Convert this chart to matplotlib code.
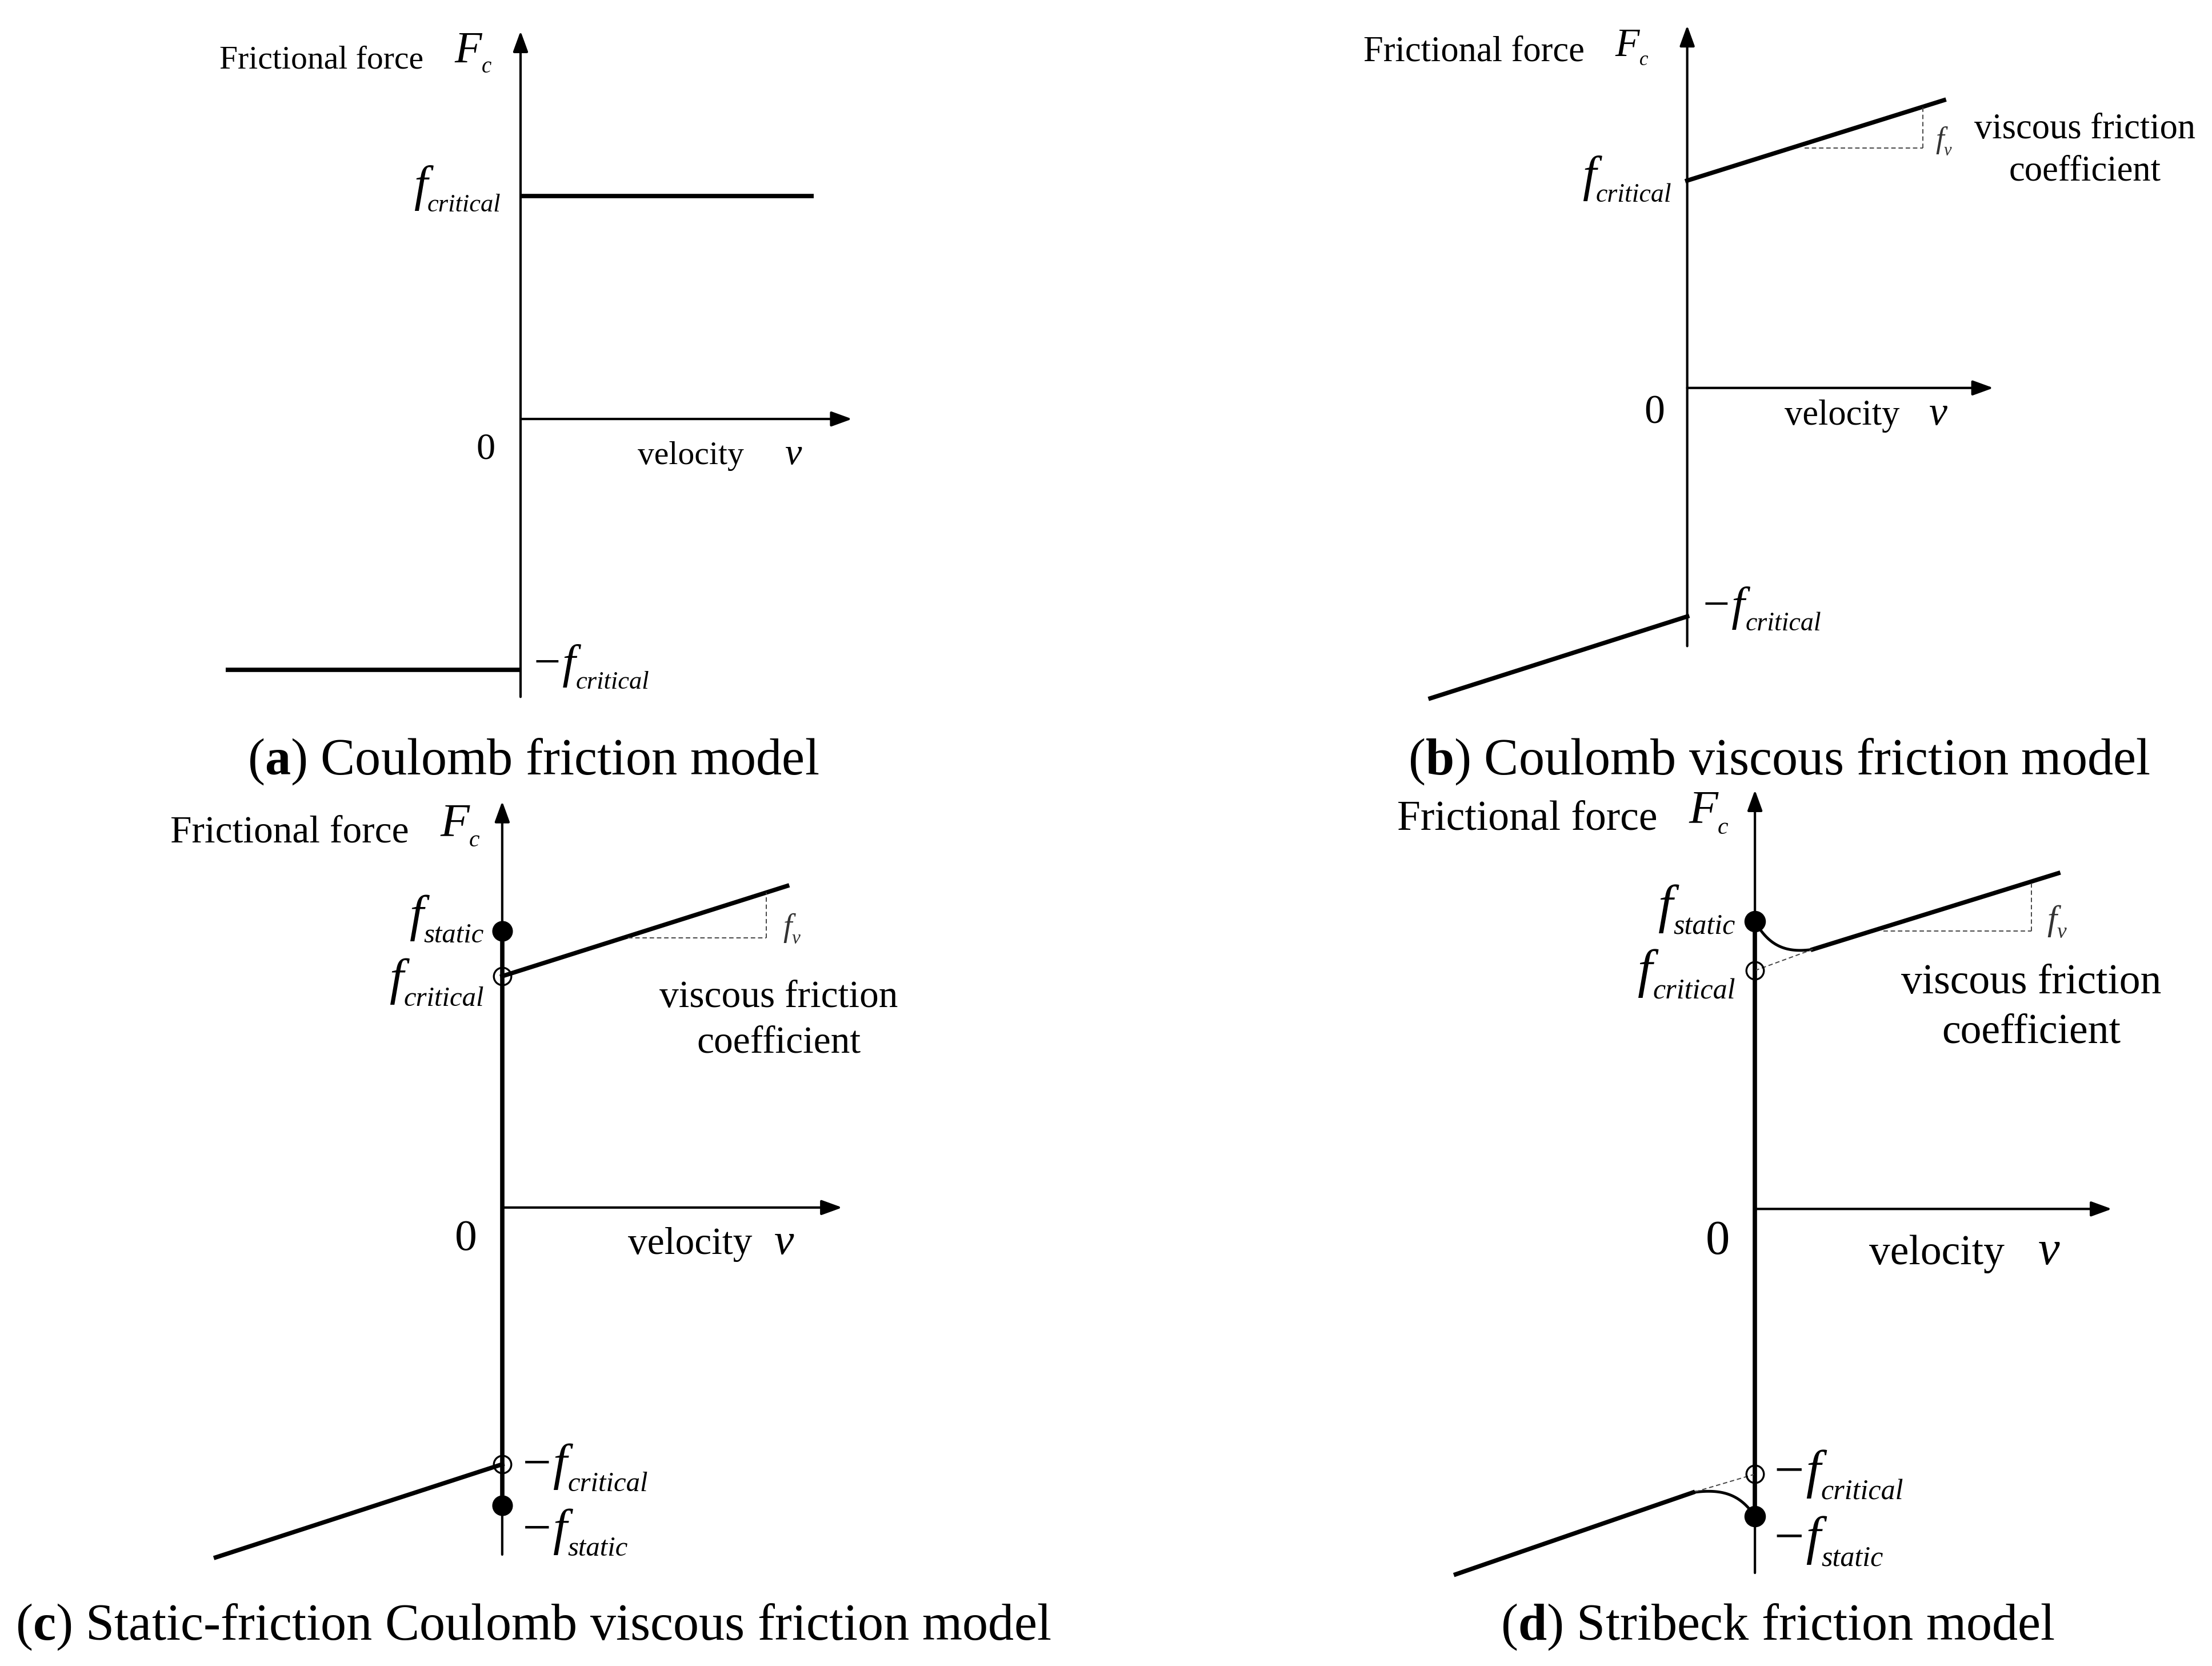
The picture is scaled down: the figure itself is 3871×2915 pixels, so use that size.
import numpy as np
import matplotlib
matplotlib.use("Agg")
import matplotlib.pyplot as plt

SERIF = "Liberation Serif"
plt.rcParams["font.family"] = SERIF
plt.rcParams["mathtext.fontset"] = "custom"
plt.rcParams["mathtext.rm"] = SERIF
plt.rcParams["mathtext.it"] = SERIF + ":italic"
plt.rcParams["mathtext.bf"] = SERIF + ":bold"

# layout grid (the four sketches are placed on a 1568 x 1181 grid, 100 grid px = 1 unit)
GW, GH = 1568, 1181

# ---- (a) Coulomb friction: force level for v>0 / v<0
a_F = [1.58, -1.78]
a_v_pos = [0.0, 2.08]
a_v_neg = [-2.09, 0.0]

# ---- (b) Coulomb + viscous
b_v_pos = [0.0, 1.82]
b_F_pos = [1.47, 2.04]
b_v_neg = [-1.82, 0.0]
b_F_neg = [-2.20, -1.62]
b_tri_v = [0.83, 1.67]
b_tri_F = [1.70, 1.97]

# ---- (c) static + Coulomb + viscous
c_fs, c_fc = 1.96, 1.64
c_fs_neg, c_fc_neg = -2.11, -1.82
c_v_pos = [0.0, 2.02]
c_F_pos = [1.64, 2.28]
c_v_neg = [-2.03, 0.0]
c_F_neg = [-2.48, -1.82]
c_tri_v = [0.89, 1.87]
c_tri_F = [1.91, 2.22]

# ---- (d) Stribeck
d_fs, d_fc = 2.04, 1.69
d_fs_neg, d_fc_neg = -2.18, -1.88
d_v_pos = [0.41, 2.15]
d_F_pos = [1.84, 2.38]
d_v_neg = [-2.12, -0.44]
d_F_neg = [-2.59, -2.01]
d_tri_v = [0.91, 1.96]
d_tri_F = [1.97, 2.29]
d_vs = 0.18  # Stribeck decay velocity

THIN, THICK, CURVE, DASH = 3.0, 5.5, 3.5, 1.4

fig = plt.figure(figsize=(38.71, 29.15), dpi=100)


def make_panel(ox, oy):
    ax = fig.add_axes([0, 0, 1, 1])
    ax.set_xlim(-ox / 100, (GW - ox) / 100)
    ax.set_ylim(-(GH - oy) / 100, oy / 100)
    ax.set_axis_off()
    ax.patch.set_alpha(0)
    return ax


def arrow(ax, start, end):
    ax.annotate("", xy=end, xytext=start,
                arrowprops=dict(arrowstyle="-|>,head_length=0.55,head_width=0.2",
                                lw=THIN, color="black", shrinkA=0, shrinkB=0,
                                mutation_scale=40))


def sub_label(ax, x, y, main, sub, size, sub_size, align="left", color="black"):
    # y is the baseline of the subscript
    lift = 0.23 * size
    kw = dict(style="italic", color=color, va="baseline", textcoords="offset points")
    if align == "right":
        s = ax.text(x, y, sub, fontsize=sub_size, style="italic", color=color,
                    ha="right", va="baseline")
        ax.annotate(main, xy=(0, y), xycoords=(s, "data"), xytext=(0, lift),
                    ha="right", fontsize=size, **kw)
    else:
        m = ax.annotate(main, xy=(x, y), xycoords="data", xytext=(0, lift),
                        ha="left", fontsize=size, **kw)
        ax.annotate(sub, xy=(1, y), xycoords=(m, "data"), xytext=(0, 0),
                    ha="left", fontsize=sub_size, **kw)


def common_text(ax, size, ff_x, ff_y, Fc_size, zero_x, zero_y, vel_x, vel_y, v_x):
    ax.text(ff_x, ff_y, "Frictional force", fontsize=size, ha="right", va="baseline")
    sub_label(ax, ff_x + 0.22, ff_y - 0.03, "F", "c", Fc_size, Fc_size * 0.5)
    ax.text(zero_x, zero_y, "0", fontsize=size * 1.15, ha="right", va="baseline")
    ax.text(vel_x, vel_y, "velocity", fontsize=size, ha="left", va="baseline")
    ax.text(v_x, vel_y, "v", fontsize=size * 1.15, style="italic", ha="left", va="baseline")


def slope_triangle(ax, tv, tF, slope_line_v, slope_line_F):
    k = (slope_line_F[1] - slope_line_F[0]) / (slope_line_v[1] - slope_line_v[0])
    top = slope_line_F[0] + k * (tv[1] - slope_line_v[0])
    ax.plot(tv, [tF[0], tF[0]], color="#444444", lw=DASH, ls=(0, (4, 2.5)))
    ax.plot([tv[1], tv[1]], [tF[0], top], color="#444444", lw=DASH, ls=(0, (4, 2.5)))


def stribeck(v, fc, fs, v_m, F_m, vs):
    e_m = np.exp(-abs(v_m) / vs)
    g = (np.exp(-np.abs(v) / vs) - e_m) / (1 - e_m)
    return fc + (F_m - fc) * v / v_m + (fs - fc) * g


# ---------------- (a)
ax = make_panel(369, 297)
arrow(ax, (0, -1.97), (0, 2.75))
arrow(ax, (0, 0), (2.35, 0))
ax.plot(a_v_pos, [a_F[0]] * 2, color="black", lw=THICK, solid_capstyle="butt")
ax.plot(a_v_neg, [a_F[1]] * 2, color="black", lw=THICK, solid_capstyle="butt")
common_text(ax, 41.5, -0.69, 2.485, 56, -0.18, -0.28, 0.83, -0.32, 1.87)
sub_label(ax, -0.14, 1.47, "f", "critical", 62, 32, align="right")
sub_label(ax, 0.07, -1.91, "\u2212f", "critical", 60, 32)

# ---------------- (b)
ax = make_panel(1196, 275)
arrow(ax, (0, -1.83), (0, 2.57))
arrow(ax, (0, 0), (2.17, 0))
ax.plot(b_v_pos, b_F_pos, color="black", lw=THICK)
ax.plot(b_v_neg, b_F_neg, color="black", lw=THICK)
slope_triangle(ax, b_tri_v, b_tri_F, b_v_pos, b_F_pos)
common_text(ax, 45, -0.73, 2.32, 50, -0.16, -0.25, 0.69, -0.26, 1.71)
sub_label(ax, -0.11, 1.32, "f", "critical", 62, 33, align="right")
sub_label(ax, 0.09, -1.72, "\u2212f", "critical", 60, 33)
sub_label(ax, 1.76, 1.65, "f", "v", 38, 22, color="#333333")
ax.text(2.82, 1.77, "viscous friction", fontsize=45, ha="center", va="baseline")
ax.text(2.82, 1.47, "coefficient", fontsize=45, ha="center", va="baseline")

# ---------------- (c)
ax = make_panel(356, 856)
arrow(ax, (0, -2.46), (0, 2.88))
arrow(ax, (0, 0), (2.41, 0))
ax.plot([0, 0], [c_fs_neg, c_fs], color="black", lw=THICK, solid_capstyle="butt")
ax.plot(c_v_pos, c_F_pos, color="black", lw=THICK)
ax.plot(c_v_neg, c_F_neg, color="black", lw=THICK)
slope_triangle(ax, c_tri_v, c_tri_F, c_v_pos, c_F_pos)
ax.plot([0, 0], [c_fs, c_fs_neg], "o", ms=25, color="black", zorder=5)
ax.plot([0, 0], [c_fc, c_fc_neg], "o", ms=22, mfc="none", mec="black", mew=2.4, zorder=5)
common_text(ax, 48.5, -0.66, 2.59, 60, -0.18, -0.30, 0.89, -0.33, 1.93)
sub_label(ax, -0.13, 1.88, "f", "static", 64, 35, align="right")
sub_label(ax, -0.13, 1.43, "f", "critical", 64, 35, align="right")
sub_label(ax, 0.12, -2.01, "\u2212f", "critical", 64, 35)
sub_label(ax, 0.12, -2.47, "\u2212f", "static", 64, 35)
sub_label(ax, 1.99, 1.87, "f", "v", 40, 24, color="#333333")
ax.text(1.96, 1.42, "viscous friction", fontsize=48.5, ha="center", va="baseline")
ax.text(1.96, 1.10, "coefficient", fontsize=48.5, ha="center", va="baseline")

# ---------------- (d)
ax = make_panel(1244, 857)
arrow(ax, (0, -2.58), (0, 2.97))
arrow(ax, (0, 0), (2.53, 0))
ax.plot([0, 0], [d_fs_neg, d_fs], color="black", lw=THICK, solid_capstyle="butt")
ax.plot(d_v_pos, d_F_pos, color="black", lw=THICK)
ax.plot(d_v_neg, d_F_neg, color="black", lw=THICK)
vv = np.linspace(0, d_v_pos[0], 60)
ax.plot(vv, stribeck(vv, d_fc, d_fs, d_v_pos[0], d_F_pos[0], d_vs), color="black", lw=CURVE)
vv = np.linspace(d_v_neg[1], 0, 60)
ax.plot(vv, stribeck(vv, d_fc_neg, d_fs_neg, d_v_neg[1], d_F_neg[1], d_vs), color="black", lw=CURVE)
ax.plot([0, d_v_pos[0]], [d_fc, d_F_pos[0]], color="#444444", lw=DASH, ls=(0, (4, 2.5)))
ax.plot([0, d_v_neg[1]], [d_fc_neg, d_F_neg[1]], color="#444444", lw=DASH, ls=(0, (4, 2.5)))
slope_triangle(ax, d_tri_v, d_tri_F, d_v_pos, d_F_pos)
ax.plot([0, 0], [d_fs, d_fs_neg], "o", ms=26, color="black", zorder=5)
ax.plot([0, 0], [d_fc, d_fc_neg], "o", ms=22, mfc="none", mec="black", mew=2.4, zorder=5)
common_text(ax, 53, -0.69, 2.69, 60, -0.18, -0.32, 0.81, -0.39, 2.01)
sub_label(ax, -0.14, 1.95, "f", "static", 67, 36, align="right")
sub_label(ax, -0.14, 1.49, "f", "critical", 67, 36, align="right")
sub_label(ax, 0.11, -2.06, "\u2212f", "critical", 67, 36)
sub_label(ax, 0.11, -2.53, "\u2212f", "static", 67, 36)
sub_label(ax, 2.07, 1.92, "f", "v", 44, 27, color="#333333")
ax.text(1.96, 1.53, "viscous friction", fontsize=53, ha="center", va="baseline")
ax.text(1.96, 1.18, "coefficient", fontsize=53, ha="center", va="baseline")

# ---------------- captions
captions = [
    (378, 549, r"($\mathbf{a}$) Coulomb friction model"),
    (1261, 549, r"($\mathbf{b}$) Coulomb viscous friction model"),
    (378, 1162, r"($\mathbf{c}$) Static-friction Coulomb viscous friction model"),
    (1260, 1162, r"($\mathbf{d}$) Stribeck friction model"),
]
for cx, cy, txt in captions:
    fig.text(cx / GW, 1 - cy / GH, txt, fontsize=65, ha="center", va="baseline")

fig.savefig("out.png", dpi=100, facecolor="white")
